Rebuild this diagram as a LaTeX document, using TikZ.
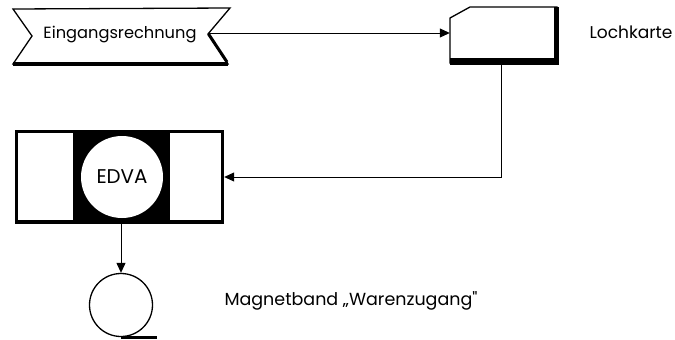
\documentclass[tikz,border=0pt]{standalone}
\usepackage{fontspec}
\setmainfont{Poppins}
\newfontfamily\rawp[Ligatures=ResetAll]{Poppins}
\usetikzlibrary{arrows.meta}
\newcommand{\fitw}[2]{\resizebox{#1}{!}{#2}}
\begin{document}
\begin{tikzpicture}[x=1pt,y=-1pt,
  outl/.style={line width=1.3pt, line join=miter},
  conn/.style={line width=1pt},
  arr/.style={conn,-{Triangle[length=10pt,width=9pt]}},
  lbl/.style={inner sep=0pt, font=\fontsize{16}{19}\selectfont}]
\useasboundingbox (0,0) rectangle (675,340);
% Banner "Eingangsrechnung"
\draw[outl] (13,9) -- (230,8) -- (208,34) -- (228,64) -- (13,64) -- (32,36) -- cycle;
\draw[line width=4pt] (13,63.5) -- (228,63.5);
\draw[line width=3pt] (208.5,34) -- (227,62);
\node[lbl] (ein) at (120,35) {\fitw{153pt}{Eingangsrechnung}};
\coordinate (einR) at (208,33);
% Lochkarte
\node[minimum width=107pt, minimum height=56pt, inner sep=0pt] (lk) at (503.5,35) {};
\draw[outl] (450,63) -- (450,18) -- (470,7) -- (557,7) -- (557,63) -- cycle;
\fill (450,58) rectangle (559,64.5);
\fill (554,7) rectangle (559,64.5);
\coordinate (lkb) at (501,64);
\node[lbl] (lkl) at (631,32) {\fitw{83pt}{Lochkarte}};
\draw[arr] (einR) -- (einR -| lk.west);
% EDVA
\node[fill=black, minimum width=209pt, minimum height=94pt, inner sep=0pt] (edva) at (119.5,177) {};
\fill[white] (17.5,133) rectangle (73,220);
\fill[white] (170,133) rectangle (221,220);
\node[circle, fill=white, minimum size=82pt, inner sep=0pt] (cpu) at (122,177) {\fitw{51pt}{EDVA}};
\draw[arr] (lkb) |- (edva.east);
% Magnetband
\node[circle, draw, outl, minimum size=63pt, inner sep=0pt] (tape) at (121,305) {};
\draw[line width=3.5pt] ([yshift=-0.5pt]tape.south) -- ++(36,0);
\coordinate (eb) at (121,224);
\draw[arr] (eb) -- (tape.north);
\node[lbl] (mb) at (351,301) {\fitw{253pt}{Magnetband „Warenzugang{\rawp"}}};
\end{tikzpicture}
\end{document}
